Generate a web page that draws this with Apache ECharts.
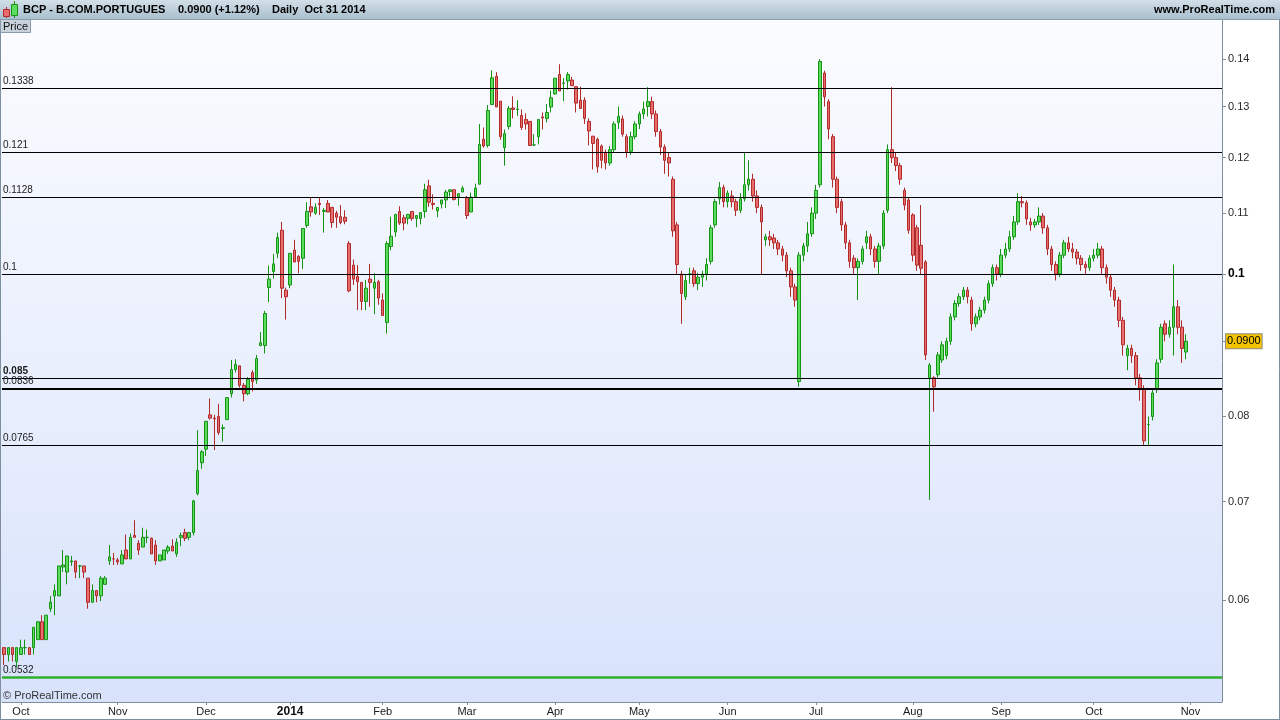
<!DOCTYPE html>
<html>
<head>
<meta charset="utf-8">
<title>BCP - B.COM.PORTUGUES</title>
<script src="https://cdn.jsdelivr.net/npm/echarts@6/dist/echarts.min.js"></script>
<style>
  html, body { margin: 0; padding: 0; background: #ffffff; }
  #chart { width: 1280px; height: 720px; }
</style>
</head>
<body>
<div id="chart"></div>
<script>
// Daily BCP quotes, 25 Sep 2013 - 31 Oct 2014 (one entry per trading day)
const opens = [
  0.0557,0.0551,0.0557,0.0545,0.0551,0.0557,0.0557,0.0557,0.0564,0.0580,
  0.0564,0.0592,0.0604,0.0604,0.0632,0.0627,0.0637,0.0638,0.0633,0.0633,
  0.0621,0.0598,0.0609,0.0604,0.0615,0.0638,0.0640,0.0639,0.0635,0.0649,
  0.0640,0.0664,0.0656,0.0652,0.0662,0.0661,0.0654,0.0638,0.0639,0.0648,
  0.0653,0.0645,0.0662,0.0667,0.0662,0.0667,0.0709,0.0744,0.0760,0.0802,
  0.0798,0.0800,0.0785,0.0796,0.0829,0.0861,0.0866,0.0840,0.0829,0.0857,
  0.0847,0.0894,0.0894,0.0979,0.1004,0.1033,0.1071,0.0975,0.0983,0.1038,
  0.1028,0.1025,0.1079,0.1111,0.1100,0.1117,0.1103,0.1117,0.1110,0.1100,
  0.1094,0.1093,0.1049,0.1014,0.0996,0.0987,0.0958,0.0992,0.0978,0.0988,
  0.0960,0.0927,0.1044,0.1068,0.1103,0.1092,0.1091,0.1103,0.1091,0.1091,
  0.1103,0.1148,0.1117,0.1104,0.1116,0.1123,0.1138,0.1141,0.1129,0.1137,
  0.1127,0.1102,0.1129,0.1151,0.1235,0.1223,0.1304,0.1363,0.1311,0.1219,
  0.1260,0.1297,0.1294,0.1282,0.1274,0.1270,0.1224,0.1240,0.1279,0.1276,
  0.1299,0.1326,0.1367,0.1348,0.1353,0.1355,0.1341,0.1313,0.1313,0.1270,
  0.1241,0.1235,
  0.1222,0.1210,0.1190,0.1215,0.1268,0.1275,0.1240,0.1212,
  0.1240,0.1265,0.1285,0.1300,0.1310,0.1285,0.1250,0.1220,0.1200,0.1160,
  0.1080,0.1000,0.0965,0.1000,0.1005,0.0985,0.0995,0.1000,0.1020,0.1080,
  0.1125,0.1145,0.1120,0.1130,0.1120,0.1105,0.1125,0.1150,0.1160,0.1130,
  0.1110,0.1055,0.1060,0.1058,0.1050,0.1040,0.1030,0.1005,0.0980,0.0845,
  0.1030,0.1045,0.1065,0.1100,0.1150,0.1370,0.1310,0.1240,0.1160,0.1120,
  0.1080,0.1050,0.1025,0.1010,0.1020,0.1050,0.1060,0.1040,0.1020,0.1045,
  0.1105,0.1215,0.1200,0.1185,0.1140,0.1123,0.1097,0.1075,0.1046,0.1019,
  0.0850,0.0850,0.0854,0.0874,0.0880,0.0900,0.0935,0.0955,0.0965,0.0975,
  0.0960,0.0925,0.0935,0.0945,0.0960,0.0985,0.1010,0.1000,0.1030,0.1040,
  0.1060,0.1085,0.1120,0.1118,0.1085,0.1080,0.1085,0.1095,0.1075,0.1040,
  0.1015,0.1000,0.1030,0.1050,0.1040,0.1035,0.1025,0.1015,0.1010,0.1025,
  0.1030,0.1040,0.1010,0.0995,0.0975,0.0960,0.0930,0.0880,0.0890,0.0880,
  0.0850,0.0835,0.0790,0.0800,0.0835,0.0875,0.0925,0.0910,0.0920,0.0950,
  0.0920,0.0885
];
const closes = [
  0.0551,0.0557,0.0551,0.0557,0.0557,0.0557,0.0551,0.0575,0.0580,0.0564,
  0.0586,0.0598,0.0609,0.0633,0.0634,0.0643,0.0638,0.0627,0.0633,0.0627,
  0.0598,0.0609,0.0604,0.0621,0.0621,0.0642,0.0640,0.0637,0.0644,0.0640,
  0.0662,0.0662,0.0649,0.0662,0.0662,0.0645,0.0638,0.0644,0.0649,0.0652,
  0.0648,0.0657,0.0664,0.0661,0.0667,0.0701,0.0735,0.0757,0.0794,0.0798,
  0.0797,0.0780,0.0786,0.0824,0.0861,0.0868,0.0840,0.0829,0.0848,0.0845,
  0.0876,0.0898,0.0940,0.0992,0.1016,0.1059,0.0978,0.0965,0.1033,0.1019,
  0.1020,0.1074,0.1103,0.1102,0.1110,0.1115,0.1105,0.1102,0.1084,0.1093,
  0.1084,0.1086,0.0974,0.0992,0.0988,0.0958,0.0978,0.0987,0.0987,0.0963,
  0.0937,0.1049,0.1061,0.1098,0.1083,0.1083,0.1098,0.1091,0.1096,0.1101,
  0.1141,0.1119,0.1115,0.1110,0.1123,0.1137,0.1141,0.1124,0.1134,0.1144,
  0.1096,0.1128,0.1144,0.1225,0.1222,0.1292,0.1360,0.1299,0.1240,0.1246,
  0.1296,0.1294,0.1295,0.1258,0.1265,0.1223,0.1224,0.1274,0.1277,0.1288,
  0.1318,0.1359,0.1332,0.1349,0.1367,0.1343,0.1307,0.1296,0.1276,0.1251,
  0.1227,0.1183,
  0.1195,0.1190,0.1215,0.1265,0.1280,0.1245,0.1210,0.1240,
  0.1265,0.1285,0.1295,0.1310,0.1285,0.1250,0.1220,0.1195,0.1190,0.1070,
  0.1015,0.0970,0.0990,0.1000,0.0985,0.0995,0.1000,0.1015,0.1075,0.1120,
  0.1145,0.1120,0.1135,0.1120,0.1105,0.1125,0.1150,0.1160,0.1130,0.1110,
  0.1085,0.1060,0.1055,0.1050,0.1040,0.1030,0.1005,0.0980,0.0960,0.1030,
  0.1045,0.1065,0.1100,0.1140,0.1395,0.1320,0.1255,0.1160,0.1110,0.1080,
  0.1050,0.1020,0.1010,0.1020,0.1040,0.1060,0.1040,0.1020,0.1045,0.1100,
  0.1215,0.1200,0.1185,0.1160,0.1114,0.1071,0.1030,0.1014,0.1009,0.0881,
  0.0867,0.0838,0.0881,0.0895,0.0900,0.0935,0.0955,0.0965,0.0975,0.0965,
  0.0925,0.0935,0.0945,0.0960,0.0985,0.1010,0.1000,0.1030,0.1040,0.1060,
  0.1085,0.1120,0.1118,0.1090,0.1080,0.1085,0.1095,0.1075,0.1040,0.1015,
  0.1000,0.1030,0.1050,0.1040,0.1035,0.1025,0.1015,0.1010,0.1025,0.1030,
  0.1040,0.1010,0.0995,0.0975,0.0960,0.0930,0.0895,0.0890,0.0880,0.0850,
  0.0835,0.0770,0.0790,0.0830,0.0870,0.0920,0.0910,0.0920,0.0950,0.0920,
  0.0890,0.0900
];
const lows = [
  0.0542,0.0545,0.0545,0.0540,0.0551,0.0551,0.0551,0.0551,0.0564,0.0564,
  0.0564,0.0589,0.0586,0.0604,0.0627,0.0615,0.0633,0.0621,0.0621,0.0621,
  0.0592,0.0598,0.0598,0.0599,0.0615,0.0634,0.0634,0.0634,0.0635,0.0640,
  0.0640,0.0662,0.0644,0.0652,0.0656,0.0645,0.0634,0.0638,0.0639,0.0645,
  0.0648,0.0642,0.0653,0.0658,0.0659,0.0664,0.0707,0.0737,0.0752,0.0796,
  0.0759,0.0777,0.0769,0.0796,0.0824,0.0857,0.0837,0.0819,0.0827,0.0832,
  0.0842,0.0893,0.0883,0.0957,0.0993,0.1025,0.0963,0.0931,0.0978,0.1019,
  0.1001,0.1008,0.1075,0.1094,0.1097,0.1097,0.1067,0.1102,0.1075,0.1075,
  0.1081,0.1081,0.0972,0.0983,0.0945,0.0945,0.0945,0.0950,0.0939,0.0953,
  0.0937,0.0911,0.1038,0.1060,0.1080,0.1071,0.1081,0.1087,0.1076,0.1081,
  0.1092,0.1111,0.1106,0.1093,0.1108,0.1109,0.1129,0.1122,0.1113,0.1137,
  0.1090,0.1102,0.1129,0.1151,0.1219,0.1219,0.1304,0.1299,0.1234,0.1185,
  0.1254,0.1276,0.1281,0.1253,0.1254,0.1223,0.1222,0.1225,0.1254,0.1268,
  0.1288,0.1324,0.1332,0.1311,0.1335,0.1343,0.1288,0.1296,0.1265,0.1223,
  0.1178,0.1172,
  0.1180,0.1178,0.1185,0.1210,0.1255,0.1240,0.1200,0.1205,
  0.1235,0.1255,0.1275,0.1280,0.1275,0.1240,0.1205,0.1170,0.1165,0.1060,
  0.1000,0.0925,0.0960,0.0985,0.0980,0.0975,0.0980,0.0990,0.1015,0.1075,
  0.1115,0.1110,0.1110,0.1110,0.1095,0.1100,0.1120,0.1140,0.1120,0.1100,
  0.1000,0.1045,0.1045,0.1040,0.1030,0.1020,0.0995,0.0965,0.0950,0.0838,
  0.1020,0.1035,0.1060,0.1090,0.1145,0.1300,0.1235,0.1145,0.1100,0.1070,
  0.1040,0.1010,0.1000,0.0960,0.1015,0.1040,0.1030,0.1010,0.1000,0.1040,
  0.1100,0.1190,0.1175,0.1150,0.1105,0.1065,0.1020,0.1005,0.1000,0.0874,
  0.0702,0.0806,0.0850,0.0870,0.0875,0.0895,0.0930,0.0950,0.0960,0.0955,
  0.0915,0.0920,0.0930,0.0940,0.0955,0.0980,0.0990,0.0995,0.1025,0.1035,
  0.1055,0.1080,0.1110,0.1080,0.1070,0.1075,0.1080,0.1065,0.1030,0.1005,
  0.0990,0.0995,0.1025,0.1035,0.1025,0.1015,0.1005,0.1000,0.1005,0.1020,
  0.1025,0.1000,0.0985,0.0965,0.0950,0.0920,0.0880,0.0860,0.0870,0.0840,
  0.0820,0.0765,0.0765,0.0795,0.0830,0.0870,0.0900,0.0905,0.0880,0.0910,
  0.0870,0.0875
];
const highs = [
  0.0557,0.0557,0.0557,0.0557,0.0564,0.0564,0.0557,0.0575,0.0580,0.0586,
  0.0586,0.0604,0.0615,0.0633,0.0649,0.0643,0.0643,0.0638,0.0634,0.0633,
  0.0621,0.0615,0.0609,0.0623,0.0623,0.0654,0.0646,0.0641,0.0649,0.0665,
  0.0666,0.0680,0.0659,0.0672,0.0670,0.0662,0.0659,0.0644,0.0649,0.0654,
  0.0660,0.0661,0.0667,0.0671,0.0667,0.0702,0.0783,0.0759,0.0794,0.0823,
  0.0802,0.0816,0.0790,0.0824,0.0874,0.0875,0.0866,0.0843,0.0851,0.0860,
  0.0881,0.0913,0.0944,0.1013,0.1032,0.1067,0.1085,0.0979,0.1033,0.1055,
  0.1030,0.1074,0.1119,0.1127,0.1117,0.1127,0.1109,0.1123,0.1110,0.1104,
  0.1114,0.1105,0.1053,0.1023,0.1014,0.0987,0.0991,0.1016,0.1001,0.0991,
  0.0970,0.1053,0.1094,0.1098,0.1112,0.1097,0.1098,0.1103,0.1096,0.1101,
  0.1152,0.1159,0.1133,0.1110,0.1123,0.1141,0.1141,0.1141,0.1134,0.1148,
  0.1130,0.1136,0.1152,0.1265,0.1258,0.1303,0.1376,0.1372,0.1311,0.1254,
  0.1301,0.1321,0.1313,0.1294,0.1286,0.1270,0.1245,0.1274,0.1288,0.1305,
  0.1333,0.1359,0.1389,0.1359,0.1372,0.1362,0.1341,0.1341,0.1319,0.1276,
  0.1241,0.1238,
  0.1225,0.1215,0.1222,0.1270,0.1300,0.1282,0.1245,0.1250,
  0.1270,0.1290,0.1310,0.1340,0.1320,0.1292,0.1255,0.1225,0.1210,0.1165,
  0.1085,0.1005,0.1000,0.1010,0.1010,0.1002,0.1005,0.1025,0.1080,0.1125,
  0.1155,0.1150,0.1140,0.1140,0.1125,0.1135,0.1210,0.1195,0.1170,0.1140,
  0.1115,0.1065,0.1070,0.1065,0.1055,0.1045,0.1035,0.1010,0.0985,0.1035,
  0.1050,0.1085,0.1110,0.1150,0.1400,0.1375,0.1315,0.1245,0.1165,0.1125,
  0.1085,0.1055,0.1030,0.1025,0.1045,0.1070,0.1065,0.1045,0.1050,0.1105,
  0.1225,0.1340,0.1210,0.1190,0.1145,0.1128,0.1100,0.1080,0.1114,0.1022,
  0.0870,0.0852,0.0885,0.0900,0.0905,0.0940,0.0960,0.0970,0.0980,0.0980,
  0.0965,0.0940,0.0950,0.0965,0.0990,0.1015,0.1015,0.1040,0.1050,0.1070,
  0.1095,0.1135,0.1130,0.1122,0.1092,0.1090,0.1110,0.1100,0.1080,0.1045,
  0.1020,0.1035,0.1055,0.1060,0.1050,0.1040,0.1030,0.1020,0.1030,0.1040,
  0.1050,0.1045,0.1015,0.1000,0.0980,0.0965,0.0935,0.0895,0.0895,0.0885,
  0.0855,0.0840,0.0800,0.0835,0.0875,0.0925,0.0930,0.0930,0.1015,0.0960,
  0.0930,0.0910
];

// Horizontal levels drawn across the price pane, with their captions
const levels = [0.1338, 0.121, 0.1128, 0.1, 0.085, 0.0836, 0.0765];
const levelLabels = ['0.1338', '0.121', '0.1128', '0.1', '0.085', '0.0836', '0.0765'];
const supportLevel = 0.0532;
const supportLabel = '0.0532';
const boldLevel = 0.085;
const heavyLevel = 0.0836;

// Price scale
const priceMin = 0.05115;
const priceMax = 0.1491;
const priceTicks = [0.06, 0.07, 0.08, 0.09, 0.1, 0.11, 0.12, 0.13, 0.14];
const priceLabels = [0.06, 0.07, 0.08, 0.1, 0.11, 0.12, 0.13, 0.14];
const lastPrice = 0.0900;

// Trading calendar (Euronext Lisbon closures inside the range)
const firstDay = '2013-09-25';
const lastSlot = '2014-11-12';
const holidays = ['2013-12-25', '2013-12-26', '2014-01-01', '2014-04-18', '2014-04-21', '2014-05-01'];
const monthNames = ['Jan', 'Feb', 'Mar', 'Apr', 'May', 'Jun', 'Jul', 'Aug', 'Sep', 'Oct', 'Nov', 'Dec'];

function tradingDays(start, end, closed) {
  const out = [];
  const d = new Date(start + 'T00:00:00Z');
  const stop = new Date(end + 'T00:00:00Z');
  while (d <= stop) {
    const wd = d.getUTCDay();
    const s = d.toISOString().slice(0, 10);
    if (wd !== 0 && wd !== 6 && closed.indexOf(s) < 0) out.push(s);
    d.setUTCDate(d.getUTCDate() + 1);
  }
  return out;
}
const dates = tradingDays(firstDay, lastSlot, holidays);

const candles = opens.map((o, i) => [o, closes[i], lows[i], highs[i]]);

function isMonthStart(idx) {
  if (idx <= 0 || idx >= dates.length) return false;
  return dates[idx].slice(0, 7) !== dates[idx - 1].slice(0, 7);
}

const FONT = '"Liberation Sans", Arial, Helvetica, sans-serif';
const chart = echarts.init(document.getElementById('chart'), null, { renderer: 'canvas' });

const levelItems = levels.map((v, i) => ({
  yAxis: v,
  lineStyle: { color: '#000000', width: v === heavyLevel ? 2 : 1, type: 'solid' },
  label: {
    formatter: levelLabels[i],
    fontWeight: v === boldLevel ? 'bold' : 'normal'
  }
}));
levelItems.push({
  yAxis: supportLevel,
  lineStyle: { color: '#2fae2f', width: 2.5, type: 'solid' },
  label: { formatter: supportLabel }
});
levelItems.push({
  yAxis: lastPrice,
  lineStyle: { color: 'rgba(0,0,0,0)', width: 0 },
  label: {
    show: true,
    position: 'end',
    distance: 4,
    formatter: lastPrice.toFixed(4),
    backgroundColor: '#f3c300',
    borderColor: '#8c8c8c',
    borderWidth: 1,
    padding: [2, 1, 1, 1],
    color: '#000000',
    fontSize: 11,
    fontWeight: 'normal',
    fontFamily: FONT
  }
});

const option = {
  animation: false,
  backgroundColor: '#ffffff',
  grid: { left: 2, right: 58, top: 19, bottom: 18, containLabel: false },
  xAxis: {
    type: 'category',
    data: dates,
    boundaryGap: true,
    axisLine: { show: true, lineStyle: { color: '#7d8f9e', width: 1 } },
    axisTick: {
      show: true, alignWithLabel: true, length: 3,
      interval: (idx) => isMonthStart(idx),
      lineStyle: { color: '#7d8f9e' }
    },
    axisLabel: {
      show: true,
      interval: (idx) => isMonthStart(idx),
      margin: 4,
      color: '#1a1a1a',
      fontSize: 11,
      fontFamily: FONT,
      formatter: (val) => {
        const m = parseInt(val.slice(5, 7), 10) - 1;
        return m === 0 ? '{y|' + val.slice(0, 4) + '}' : monthNames[m];
      },
      rich: { y: { fontWeight: 'bold', fontSize: 12, color: '#111', fontFamily: FONT } }
    },
    splitLine: { show: false }
  },
  yAxis: {
    type: 'log',
    logBase: 10,
    position: 'right',
    min: priceMin,
    max: priceMax,
    axisLine: { show: true, lineStyle: { color: '#7d8f9e', width: 1 } },
    axisTick: { show: true, inside: false, length: 4, customValues: priceTicks, lineStyle: { color: '#7d8f9e' } },
    minorTick: { show: false },
    splitLine: { show: false },
    minorSplitLine: { show: false },
    axisLabel: {
      show: true,
      customValues: priceLabels,
      margin: 6,
      color: '#2a2a2a',
      fontSize: 11,
      fontFamily: FONT,
      formatter: (v) => {
        const s = String(+(+v).toFixed(4));
        return Math.abs(v - 0.1) < 1e-9 ? '{b|' + s + '}' : s;
      },
      rich: { b: { fontWeight: 'bold', fontSize: 12, color: '#000', fontFamily: FONT } }
    }
  },
  series: [{
    type: 'candlestick',
    data: candles,
    barWidth: 3,
    silent: true,
    itemStyle: {
      color: '#5cdc5c',
      color0: '#e86e6e',
      borderColor: '#169216',
      borderColor0: '#b12a2a',
      borderWidth: 1
    },
    markLine: {
      silent: true,
      symbol: ['none', 'none'],
      precision: 4,
      animation: false,
      label: {
        show: true,
        position: 'insideStartTop',
        distance: [1, 2],
        color: '#1a1a1a',
        fontSize: 10,
        fontFamily: FONT
      },
      emphasis: { disabled: true },
      data: levelItems
    }
  }],
  graphic: [
    {
      type: 'rect', z: -10, silent: true,
      shape: { x: 1, y: 19, width: 1221, height: 683 },
      style: {
        fill: new echarts.graphic.LinearGradient(0, 0, 0, 1, [
          { offset: 0, color: '#fbfcff' },
          { offset: 1, color: '#d8e3fb' }
        ])
      }
    },
    {
      type: 'rect', z: 50, silent: true,
      shape: { x: 0, y: 0, width: 1280, height: 19 },
      style: {
        fill: new echarts.graphic.LinearGradient(0, 0, 0, 1, [
          { offset: 0, color: '#d2dfe8' },
          { offset: 1, color: '#a9bfcd' }
        ])
      }
    },
    { type: 'line', z: 51, silent: true, shape: { x1: 0, y1: 19.5, x2: 1280, y2: 19.5 }, style: { stroke: '#8a9eae', lineWidth: 1 } },
    { type: 'line', z: 51, silent: true, shape: { x1: 0.5, y1: 19, x2: 0.5, y2: 720 }, style: { stroke: '#7d8f9e', lineWidth: 1 } },
    { type: 'line', z: 51, silent: true, shape: { x1: 1279.5, y1: 19, x2: 1279.5, y2: 720 }, style: { stroke: '#7d8f9e', lineWidth: 1 } },
    { type: 'line', z: 51, silent: true, shape: { x1: 0, y1: 719.5, x2: 1280, y2: 719.5 }, style: { stroke: '#7d8f9e', lineWidth: 1 } },
    // header icon: a red and a green candle
    { type: 'line', z: 52, silent: true, shape: { x1: 6.5, y1: 7, x2: 6.5, y2: 18 }, style: { stroke: '#b12a2a', lineWidth: 1 } },
    { type: 'rect', z: 53, silent: true, shape: { x: 3.5, y: 9.5, width: 6, height: 7 }, style: { fill: '#e86e6e', stroke: '#b12a2a', lineWidth: 1 } },
    { type: 'line', z: 52, silent: true, shape: { x1: 14.5, y1: 1, x2: 14.5, y2: 18 }, style: { stroke: '#169216', lineWidth: 1 } },
    { type: 'rect', z: 53, silent: true, shape: { x: 11.5, y: 4.5, width: 6, height: 11 }, style: { fill: '#5cdc5c', stroke: '#169216', lineWidth: 1 } },
    {
      type: 'text', z: 54, silent: true, x: 23, y: 10,
      style: { text: 'BCP - B.COM.PORTUGUES', font: 'bold 11px ' + FONT, fill: '#000', verticalAlign: 'middle' }
    },
    {
      type: 'text', z: 54, silent: true, x: 178, y: 10,
      style: { text: '0.0900 (+1.12%)', font: 'bold 11px ' + FONT, fill: '#000', verticalAlign: 'middle' }
    },
    {
      type: 'text', z: 54, silent: true, x: 272, y: 10,
      style: { text: 'Daily  Oct 31 2014', font: 'bold 11px ' + FONT, fill: '#000', verticalAlign: 'middle' }
    },
    {
      type: 'text', z: 54, silent: true, x: 1275, y: 10,
      style: { text: 'www.ProRealTime.com', font: 'bold 11px ' + FONT, fill: '#000', align: 'right', verticalAlign: 'middle' }
    },
    // pane caption
    { type: 'rect', z: 54, silent: true, shape: { x: 0.5, y: 19.5, width: 30, height: 13 }, style: { fill: '#c7d2dc', stroke: '#8a9aa8', lineWidth: 1 } },
    {
      type: 'text', z: 55, silent: true, x: 3, y: 26.5,
      style: { text: 'Price', font: '11px ' + FONT, fill: '#111', verticalAlign: 'middle' }
    },
    {
      type: 'text', z: 54, silent: true, x: 3, y: 696,
      style: { text: '\u00A9 ProRealTime.com', font: '11px ' + FONT, fill: '#333', verticalAlign: 'middle' }
    }
  ]
};

chart.setOption(option);
</script>
</body>
</html>
